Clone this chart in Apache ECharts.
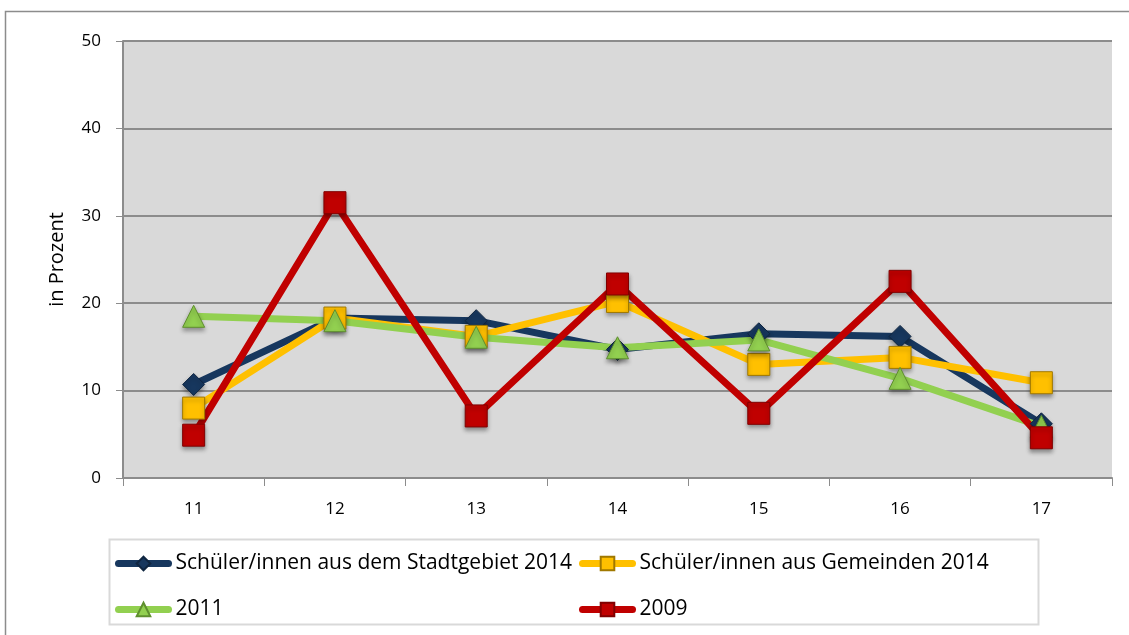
<!DOCTYPE html>
<html><head><meta charset="utf-8">
<script src="https://cdn.jsdelivr.net/npm/echarts@6/dist/echarts.min.js"></script>
<style>html,body{margin:0;padding:0;background:#fff}#c{width:1129px;height:635px}</style>
</head><body><div id="c"></div>
<script>
const categories = ['11','12','13','14','15','16','17'];
const stadt2014 = [10.7, 18.3, 18.0, 14.7, 16.5, 16.2, 6.2];
const gemeinden2014 = [8.0, 18.3, 16.2, 20.2, 13.0, 13.8, 10.9];
const y2011 = [18.5, 18.0, 16.1, 14.9, 15.8, 11.4, 5.9];
const y2009 = [4.9, 31.5, 7.1, 22.2, 7.4, 22.5, 4.6];
const names = ['Schüler/innen aus dem Stadtgebiet 2014','Schüler/innen aus Gemeinden 2014','2011','2009'];

const font = '"Open Sans", "DejaVu Sans", sans-serif';
const chart = echarts.init(document.getElementById('c'));
function ser(name, data, color, border, symbol, size) {
  return {
    name, type: 'line', data, symbol, symbolSize: size,
    lineStyle: { color, width: 7, cap: 'round', join: 'round' },
    itemStyle: { color, borderColor: border, borderWidth: 1, shadowColor: 'rgba(0,0,0,0.35)', shadowBlur: 4, shadowOffsetY: 3 },
    emphasis: { disabled: true }, z: 2
  };
}
function leg(name, left, top) {
  return { data: [name], left, top, itemWidth: 50, itemHeight: 17, itemGap: 0,
    lineStyle: { width: 7, cap: 'round' },
    textStyle: { fontFamily: font, fontSize: 21, color: '#000', padding: [0,0,0,2] }, selectedMode: false };
}
chart.setOption({
  animation: false,
  graphic: [
    { type: 'rect', shape: { x: 5.5, y: 11.5, width: 1130, height: 640 }, style: { fill: 'none', stroke: '#8c8c8c', lineWidth: 1.5 }, z: -1 },
    { type: 'rect', shape: { x: 109.5, y: 539.5, width: 929, height: 85 }, style: { fill: '#fff', stroke: '#d9d9d9', lineWidth: 2 }, z: -1 }
  ],
  grid: { left: 123, right: 17, top: 41, bottom: 157, show: true, backgroundColor: '#d9d9d9', borderWidth: 0 },
  legend: [
    leg(names[0], 110, 548),
    leg(names[1], 574, 548),
    leg(names[2], 110, 594),
    leg(names[3], 574, 594)
  ],
  xAxis: {
    type: 'category', data: categories, boundaryGap: true,
    axisLine: { lineStyle: { color: '#8c8c8c', width: 2 } },
    axisTick: { show: true, length: 8, lineStyle: { color: '#8c8c8c', width: 1 } },
    axisLabel: { color: '#000', fontFamily: font, fontSize: 17, margin: 23 }
  },
  yAxis: {
    type: 'value', min: 0, max: 50, interval: 10,
    name: 'in Prozent', nameLocation: 'middle', nameGap: 56,
    nameTextStyle: { color: '#000', fontFamily: font, fontSize: 20 },
    axisLine: { show: true, lineStyle: { color: '#8c8c8c', width: 2 } },
    axisTick: { show: true, length: 7, lineStyle: { color: '#8c8c8c', width: 1 } },
    axisLabel: { color: '#000', fontFamily: font, fontSize: 17, margin: 22 },
    splitLine: { lineStyle: { color: '#8c8c8c', width: 2 } }
  },
  series: [
    ser(names[0], stadt2014, '#17375e', '#0f2540', 'diamond', 22),
    ser(names[1], gemeinden2014, '#ffc000', '#a07800', 'rect', 22),
    ser(names[2], y2011, '#92d050', '#5f8f2e', 'triangle', 22),
    ser(names[3], y2009, '#c00000', '#800000', 'rect', 22)
  ]
});
</script></body></html>
